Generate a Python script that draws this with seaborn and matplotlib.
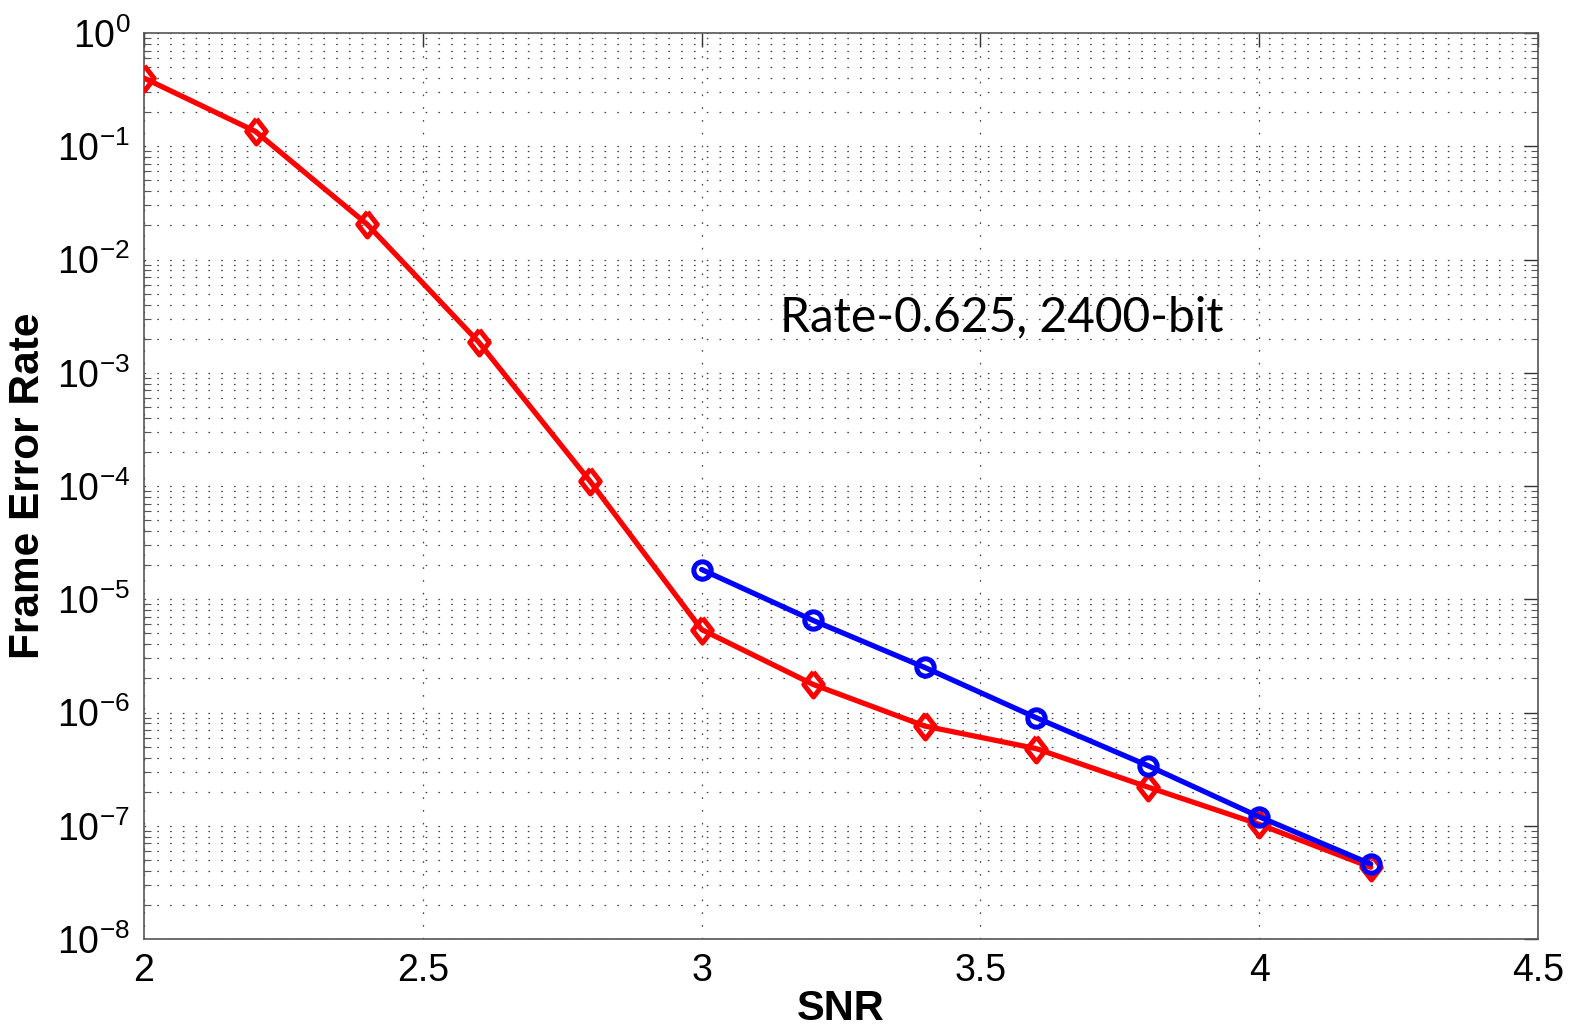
import numpy as np
import pandas as pd
import matplotlib
matplotlib.use("Agg")
import matplotlib.pyplot as plt
import seaborn as sns
from matplotlib.ticker import LogLocator, FixedLocator

# ---- data ----
snr_red = [2.0, 2.2, 2.4, 2.6, 2.8, 3.0, 3.2, 3.4, 3.6, 3.8, 4.0, 4.2]
fer_red = [0.40, 0.135, 0.0205, 1.87e-3, 1.10e-4, 5.4e-6, 1.77e-6, 7.6e-7,
           4.8e-7, 2.2e-7, 1.03e-7, 4.3e-8]
snr_blue = [3.0, 3.2, 3.4, 3.6, 3.8, 4.0, 4.2]
fer_blue = [1.83e-5, 6.5e-6, 2.5e-6, 9.0e-7, 3.4e-7, 1.2e-7, 4.6e-8]
x_ticks = [2, 2.5, 3, 3.5, 4, 4.5]
x_tick_labels = ["2", "2.5", "3", "3.5", "4", "4.5"]
annotation = "Rate-0.625, 2400-bit"
x_label = "SNR"
y_label = "Frame Error Rate"

sns.set_style("white")
plt.rcParams['font.family'] = ['Liberation Sans', 'DejaVu Sans']
plt.rcParams['mathtext.fontset'] = 'custom'
plt.rcParams['mathtext.rm'] = 'Liberation Sans'
plt.rcParams['mathtext.it'] = 'Liberation Sans'
plt.rcParams['mathtext.default'] = 'regular'
plt.rcParams['lines.scale_dashes'] = False
plt.rcParams['text.color'] = 'black'
plt.rcParams['axes.labelcolor'] = 'black'
plt.rcParams['xtick.color'] = 'black'
plt.rcParams['ytick.color'] = 'black'

fig = plt.figure(figsize=(15.78, 10.30), dpi=100)
ax = fig.add_axes([144 / 1578, 1 - 939 / 1030, (1538 - 144) / 1578, (939 - 33) / 1030])

df_red = pd.DataFrame({"SNR": snr_red, "FER": fer_red})
df_blue = pd.DataFrame({"SNR": snr_blue, "FER": fer_blue})

diamond = [(0, 1), (0.78, 0), (0, -1), (-0.78, 0), (0, 1)]

sns.lineplot(data=df_red, x="SNR", y="FER", ax=ax, color="#ff0000", lw=3.8,
             marker=diamond, markersize=18, markerfacecolor="none",
             markeredgecolor="#ff0000", markeredgewidth=3.6, zorder=3)
sns.lineplot(data=df_blue, x="SNR", y="FER", ax=ax, color="#0000ff", lw=3.8,
             marker="o", markersize=12.5, markerfacecolor="none",
             markeredgecolor="#0000ff", markeredgewidth=3.6, zorder=4)

ax.set_yscale("log")
ax.set_xlim(2, 4.5)
ax.set_ylim(1e-8, 1)
ax.xaxis.set_major_locator(FixedLocator(x_ticks))
ax.set_xticklabels(x_tick_labels)
ax.yaxis.set_major_locator(LogLocator(base=10, numticks=20))
ax.yaxis.set_minor_locator(LogLocator(base=10, subs=np.arange(2, 10), numticks=20))

grid_kw = dict(color="#444444", linestyle=(0, (1.2, 8.0)), linewidth=0.9)
ax.grid(True, which="major", axis="both", **grid_kw)
ax.grid(True, which="minor", axis="y", **grid_kw)
ax.set_axisbelow(True)

ax.tick_params(which="major", direction="in", length=10, width=1, color="#333333",
               labelcolor="black", top=True, right=True, labelsize=27, pad=10)
ax.tick_params(which="minor", direction="in", length=5, width=0.8, color="#555555",
               left=True, right=True)
ax.tick_params(axis="x", which="minor", bottom=False, top=False)
for s in ax.spines.values():
    s.set_color("#555555")
    s.set_linewidth(1.2)
    s.set_visible(True)

ax.set_xlabel(x_label, fontsize=30, fontweight="bold", labelpad=0, color="black")
ax.set_ylabel(y_label, fontsize=30.5, fontweight="bold", labelpad=6, color="black")

ax.text(3.141, 3.05e-3, annotation, fontsize=34.5, family=["Lato", "DejaVu Sans"],
        ha="left", va="center", color="black")

fig.savefig("out.png", dpi=100)
